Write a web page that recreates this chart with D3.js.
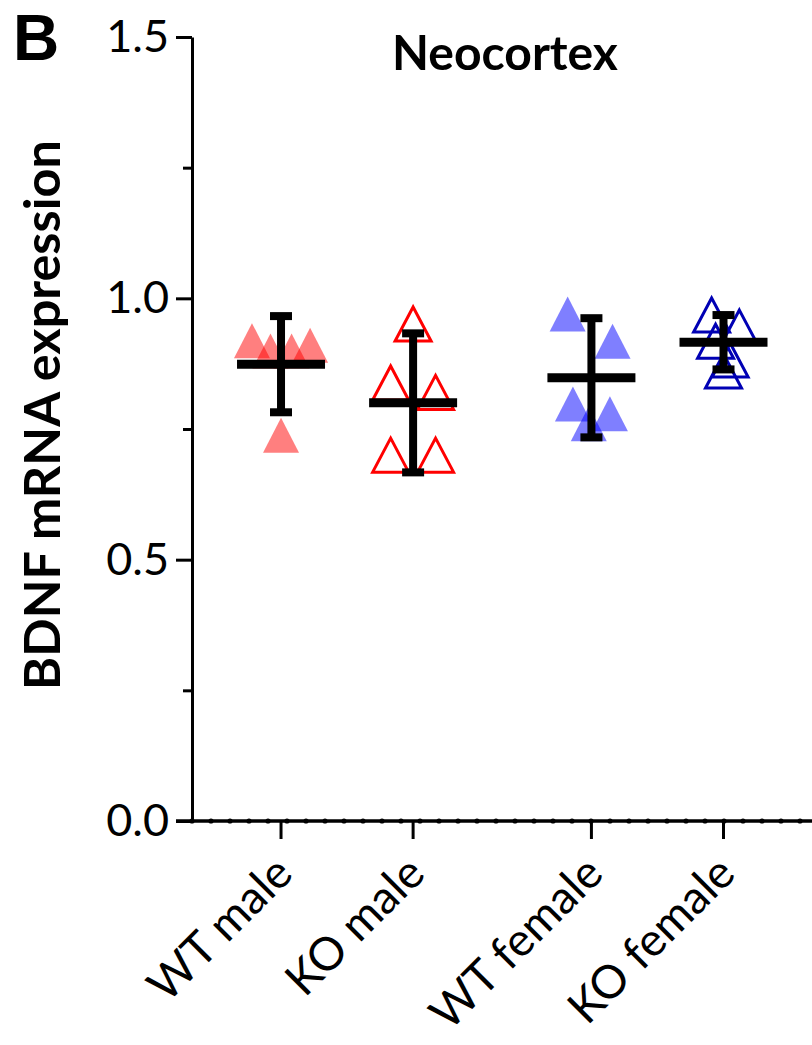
<!DOCTYPE html>
<html>
<script src="https://d3js.org/d3.v7.min.js"></script>
<body style="margin:0;background:#fff">
<svg id="chart" width="812" height="1045"></svg>
<script>
// values
const groups = ["WT male", "KO male", "WT female", "KO female"];
const wtMale = [0.919, 0.899, 0.899, 0.910, 0.738];
const koMale = [0.951, 0.838, 0.820, 0.700, 0.700];
const wtFemale = [0.970, 0.918, 0.798, 0.779, 0.760];
const koFemale = [0.968, 0.945, 0.918, 0.882, 0.861];
const means = [0.874, 0.800, 0.848, 0.916];
const sds = [0.092, 0.133, 0.114, 0.052];
const yTicks = [0, 0.5, 1.0, 1.5];
const yMinor = [0.25, 0.75, 1.25];

// layout only
const slots = [1, 2, 3.35, 4.35];
const spread = [
  [-0.22, -0.08, 0.08, 0.22, 0],
  [0, -0.17, 0.17, -0.17, 0.17],
  [-0.18, 0.16, -0.14, 0.14, -0.02],
  [-0.09, 0.12, -0.06, 0.05, 0]
];
const series = [wtMale, koMale, wtFemale, koFemale];
const styles = [
  {fill: "#ff0000", op: 0.5, stroke: "none"},
  {fill: "none", op: 1, stroke: "#ff0000"},
  {fill: "#0000ff", op: 0.5, stroke: "none"},
  {fill: "none", op: 1, stroke: "#0000b4"}
];

const font = "Lato, 'Open Sans', sans-serif";
const svg = d3.select("#chart");

const x = d3.scaleLinear().domain([0.326, 5.02]).range([192, 812]);
const y = d3.scaleLinear().domain([0, 1.5]).range([821, 37]);

function tri(w, h) {
  const p = d3.path();
  p.moveTo(0, -h / 2);
  p.lineTo(w / 2, h / 2);
  p.lineTo(-w / 2, h / 2);
  p.closePath();
  return p.toString();
}

// points
series.forEach(function(vals, gi) {
  const st = styles[gi];
  svg.append("g").selectAll("path")
    .data(vals).enter()
    .append("path")
    .attr("d", st.fill === "none" ? tri(36, 34) : tri(36, 35))
    .attr("transform", function(d, i) {
      return "translate(" + x(slots[gi] + spread[gi][i]) + "," + y(d) + ")";
    })
    .attr("fill", st.fill)
    .attr("fill-opacity", st.op)
    .attr("stroke", st.stroke)
    .attr("stroke-width", 3);
});

// error bars (mean +- SD)
const bars = svg.append("g").selectAll("g")
  .data(means).enter().append("g");
bars.append("line")
  .attr("x1", function(d, i) { return x(slots[i]); })
  .attr("x2", function(d, i) { return x(slots[i]); })
  .attr("y1", function(d, i) { return y(d + sds[i]); })
  .attr("y2", function(d, i) { return y(d - sds[i]); })
  .attr("stroke", "#000").attr("stroke-width", 8);
[1, -1].forEach(function(s) {
  bars.append("line")
    .attr("x1", function(d, i) { return x(slots[i]) - 11; })
    .attr("x2", function(d, i) { return x(slots[i]) + 11; })
    .attr("y1", function(d, i) { return y(d + s * sds[i]); })
    .attr("y2", function(d, i) { return y(d + s * sds[i]); })
    .attr("stroke", "#000").attr("stroke-width", 8);
});
bars.append("line")
  .attr("x1", function(d, i) { return x(slots[i]) - 44; })
  .attr("x2", function(d, i) { return x(slots[i]) + 44; })
  .attr("y1", function(d) { return y(d); })
  .attr("y2", function(d) { return y(d); })
  .attr("stroke", "#000").attr("stroke-width", 9);

// y axis
const yAxis = svg.append("g")
  .attr("transform", "translate(192,0)")
  .call(d3.axisLeft(y).tickValues(yTicks).tickSize(16).tickSizeOuter(0)
    .tickPadding(7).tickFormat(d3.format(".1f")));
yAxis.select(".domain").attr("stroke-width", 3);
yAxis.selectAll(".tick line").attr("stroke-width", 3);
yAxis.selectAll("text").attr("font-family", font).attr("font-size", 45).attr("fill", "#000");
svg.append("g")
  .attr("transform", "translate(192,0)")
  .call(d3.axisLeft(y).tickValues(yMinor).tickSize(9).tickFormat(""))
  .call(function(g) { g.select(".domain").remove(); })
  .selectAll(".tick line").attr("stroke-width", 3);

// x axis
svg.append("line")
  .attr("x1", 176).attr("x2", 812)
  .attr("y1", y(0)).attr("y2", y(0))
  .attr("stroke", "#000").attr("stroke-width", 3.5);
svg.append("g").selectAll("circle")
  .data(d3.range(192, 812, 19)).enter()
  .append("circle")
  .attr("cx", function(d) { return d; })
  .attr("cy", y(0))
  .attr("r", 2.6)
  .attr("fill", "#000");
svg.append("g").selectAll("line")
  .data(slots).enter()
  .append("line")
  .attr("x1", function(d) { return x(d); })
  .attr("x2", function(d) { return x(d); })
  .attr("y1", y(0))
  .attr("y2", y(0) + 18)
  .attr("stroke", "#000").attr("stroke-width", 3);

svg.append("g").selectAll("text")
  .data(groups).enter()
  .append("text")
  .attr("transform", function(d, i) {
    return "translate(" + (x(slots[i]) + 14) + "," + 876 + ") rotate(-45)";
  })
  .attr("text-anchor", "end")
  .attr("font-family", font)
  .attr("font-size", 46)
  .text(function(d) { return d; });

function fit(sel, target) {
  const w = sel.node().getComputedTextLength();
  sel.attr("font-size", parseFloat(sel.attr("font-size")) * target / w);
}

// titles
const title = svg.append("text")
  .attr("x", 505).attr("y", 70)
  .attr("text-anchor", "middle")
  .attr("font-family", font).attr("font-weight", "bold")
  .attr("font-size", 36)
  .text("Neocortex");
fit(title, 226);

const ylab = svg.append("text")
  .attr("transform", "translate(60,415) rotate(-90)")
  .attr("text-anchor", "middle")
  .attr("font-family", font).attr("font-weight", "bold")
  .attr("font-size", 50)
  .text("BDNF mRNA expression");
fit(ylab, 550);

svg.append("text")
  .attr("x", 13).attr("y", 60)
  .attr("font-family", "'Liberation Sans', Arial, sans-serif").attr("font-weight", "bold")
  .attr("font-size", 64)
  .text("B");
</script>
</body>
</html>
